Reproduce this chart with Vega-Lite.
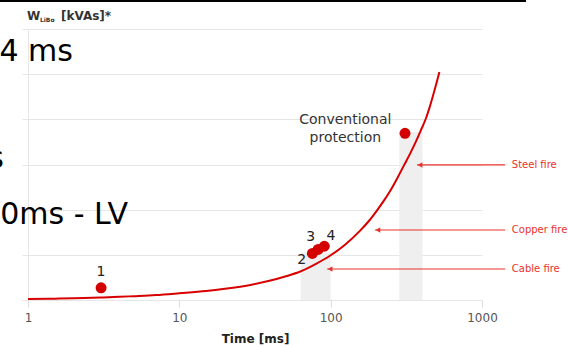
{
  "$schema": "https://vega.github.io/schema/vega-lite/v6.json",
  "width": 454,
  "height": 271,
  "autosize": "none",
  "padding": {"left": 28, "top": 29, "right": 86, "bottom": 47},
  "background": "white",
  "config": {
    "view": {"stroke": null},
    "font": "DejaVu Sans",
    "text": {"font": "DejaVu Sans"}
  },
  "datasets": {
    "bands": [
      {"t": 63.4, "t2": 100, "v": 0, "v2": 1.05},
      {"t": 284, "t2": 404, "v": 0, "v2": 3.72}
    ],
    "curve": [
      {"t": 1, "v": 0.02},
      {"t": 1.5, "v": 0.03},
      {"t": 2, "v": 0.04},
      {"t": 3, "v": 0.055},
      {"t": 4, "v": 0.07},
      {"t": 5, "v": 0.085},
      {"t": 7, "v": 0.11},
      {"t": 10, "v": 0.15},
      {"t": 15, "v": 0.2},
      {"t": 20, "v": 0.25},
      {"t": 30, "v": 0.34},
      {"t": 40, "v": 0.43},
      {"t": 50, "v": 0.52},
      {"t": 63, "v": 0.63},
      {"t": 80, "v": 0.8},
      {"t": 100, "v": 0.99},
      {"t": 125, "v": 1.23},
      {"t": 156, "v": 1.53},
      {"t": 180, "v": 1.76},
      {"t": 202, "v": 1.98},
      {"t": 230, "v": 2.25},
      {"t": 250, "v": 2.44},
      {"t": 275, "v": 2.69},
      {"t": 305, "v": 2.98},
      {"t": 335, "v": 3.24},
      {"t": 365, "v": 3.5},
      {"t": 395, "v": 3.76},
      {"t": 427, "v": 4.03},
      {"t": 450, "v": 4.26},
      {"t": 477, "v": 4.55},
      {"t": 500, "v": 4.8},
      {"t": 523, "v": 5.05}
    ],
    "points": [
      {"t": 3.04, "v": 0.27, "id": "1"},
      {"t": 75.7, "v": 1.03, "id": "2"},
      {"t": 82.6, "v": 1.12, "id": "3"},
      {"t": 90.8, "v": 1.19, "id": "4"},
      {"t": 310, "v": 3.69, "id": "Conventional protection"}
    ],
    "nums": [
      {"t": 3.04, "v": 0.62, "label": "1"},
      {"t": 64.4, "v": 0.886, "label": "2"},
      {"t": 73.9, "v": 1.40, "label": "3"},
      {"t": 100.6, "v": 1.42, "label": "4"}
    ],
    "conv": [
      {"t": 125, "v": 3.98, "label": "Conventional"},
      {"t": 125, "v": 3.58, "label": "protection"}
    ],
    "arrows": [
      {"t": 372, "t2": 1422, "v": 2.99, "label": "Steel fire", "tl": 1574},
      {"t": 196, "t2": 1422, "v": 1.55, "label": "Copper fire", "tl": 1574},
      {"t": 94.7, "t2": 1422, "v": 0.686, "label": "Cable fire", "tl": 1574}
    ],
    "big": [
      {"t": 1.98, "v": 5.29, "label": "4 ms"},
      {"t": 0.694, "v": 2.92, "label": "s"},
      {"t": 4.58, "v": 1.68, "label": "0ms - LV"}
    ],
    "titleMain": [
      {"t": 0.985, "v": 6.2, "label": "W"},
      {"t": 1.652, "v": 6.2, "label": "[kVAs]*"}
    ],
    "titleSub": [
      {"t": 1.2, "v": 6.15, "label": "LiBo"}
    ],
    "topline": [
      {"t": 0.653, "t2": 1954, "v": 6.62}
    ]
  },
  "encoding": {
    "x": {
      "field": "t",
      "type": "quantitative",
      "scale": {"type": "log", "domain": [1, 1000], "nice": false},
      "axis": {
        "title": "Time [ms]",
        "titleFont": "DejaVu Sans",
        "titleFontSize": 12,
        "titleFontWeight": "bold",
        "titleColor": "#222222",
        "titlePadding": 10,
        "values": [1, 10, 100, 1000],
        "format": "d",
        "labelFont": "DejaVu Sans",
        "labelFontSize": 12,
        "labelColor": "#555555",
        "labelPadding": 5,
        "labelFlush": false,
        "labelOverlap": false,
        "tickColor": "#dddddd",
        "tickSize": 7,
        "domain": false,
        "grid": false
      }
    },
    "y": {
      "field": "v",
      "type": "quantitative",
      "scale": {"domain": [0, 6], "nice": false},
      "axis": {
        "title": null,
        "values": [0, 1, 2, 3, 4, 5, 6],
        "labels": false,
        "grid": true,
        "gridColor": "#e6e6e6",
        "domain": true,
        "domainColor": "#e6e6e6",
        "ticks": true,
        "tickColor": "#e6e6e6",
        "tickSize": 6
      }
    }
  },
  "layer": [
    {
      "data": {"name": "bands"},
      "mark": {"type": "rect", "color": "#efefef"},
      "encoding": {"x2": {"field": "t2"}, "y2": {"field": "v2"}}
    },
    {
      "data": {"name": "curve"},
      "mark": {"type": "line", "color": "#d80000", "strokeWidth": 2, "interpolate": "monotone", "clip": false},
      "encoding": {}
    },
    {
      "data": {"name": "points"},
      "mark": {"type": "circle", "color": "#d40000", "opacity": 1, "size": 120},
      "encoding": {}
    },
    {
      "data": {"name": "nums"},
      "mark": {"type": "text", "fontSize": 14, "color": "#222222", "align": "center", "baseline": "middle"},
      "encoding": {"text": {"field": "label"}}
    },
    {
      "data": {"name": "conv"},
      "mark": {"type": "text", "fontSize": 14, "color": "#333333", "align": "center", "baseline": "middle"},
      "encoding": {"text": {"field": "label"}}
    },
    {
      "data": {"name": "arrows"},
      "mark": {"type": "rule", "color": "#e8332b", "strokeWidth": 1.2, "clip": false},
      "encoding": {"x2": {"field": "t2"}}
    },
    {
      "data": {"name": "arrows"},
      "mark": {"type": "point", "shape": "triangle-left", "filled": true, "color": "#e8332b", "opacity": 1, "size": 30, "xOffset": 3},
      "encoding": {}
    },
    {
      "data": {"name": "arrows"},
      "mark": {"type": "text", "fontSize": 10, "color": "#e8332b", "align": "left", "baseline": "middle", "clip": false},
      "encoding": {"x": {"field": "tl", "type": "quantitative"}, "text": {"field": "label"}}
    },
    {
      "data": {"name": "big"},
      "mark": {"type": "text", "fontSize": 30, "color": "#000000", "align": "right", "baseline": "alphabetic"},
      "encoding": {"text": {"field": "label"}}
    },
    {
      "data": {"name": "titleMain"},
      "mark": {"type": "text", "fontSize": 12, "fontWeight": "bold", "color": "#333333", "align": "left", "baseline": "alphabetic"},
      "encoding": {"text": {"field": "label"}}
    },
    {
      "data": {"name": "titleSub"},
      "mark": {"type": "text", "fontSize": 6, "fontWeight": "bold", "color": "#333333", "align": "left", "baseline": "alphabetic"},
      "encoding": {"text": {"field": "label"}}
    },
    {
      "data": {"name": "topline"},
      "mark": {"type": "rule", "color": "#000000", "strokeWidth": 2, "clip": false},
      "encoding": {"x2": {"field": "t2"}}
    }
  ]
}
